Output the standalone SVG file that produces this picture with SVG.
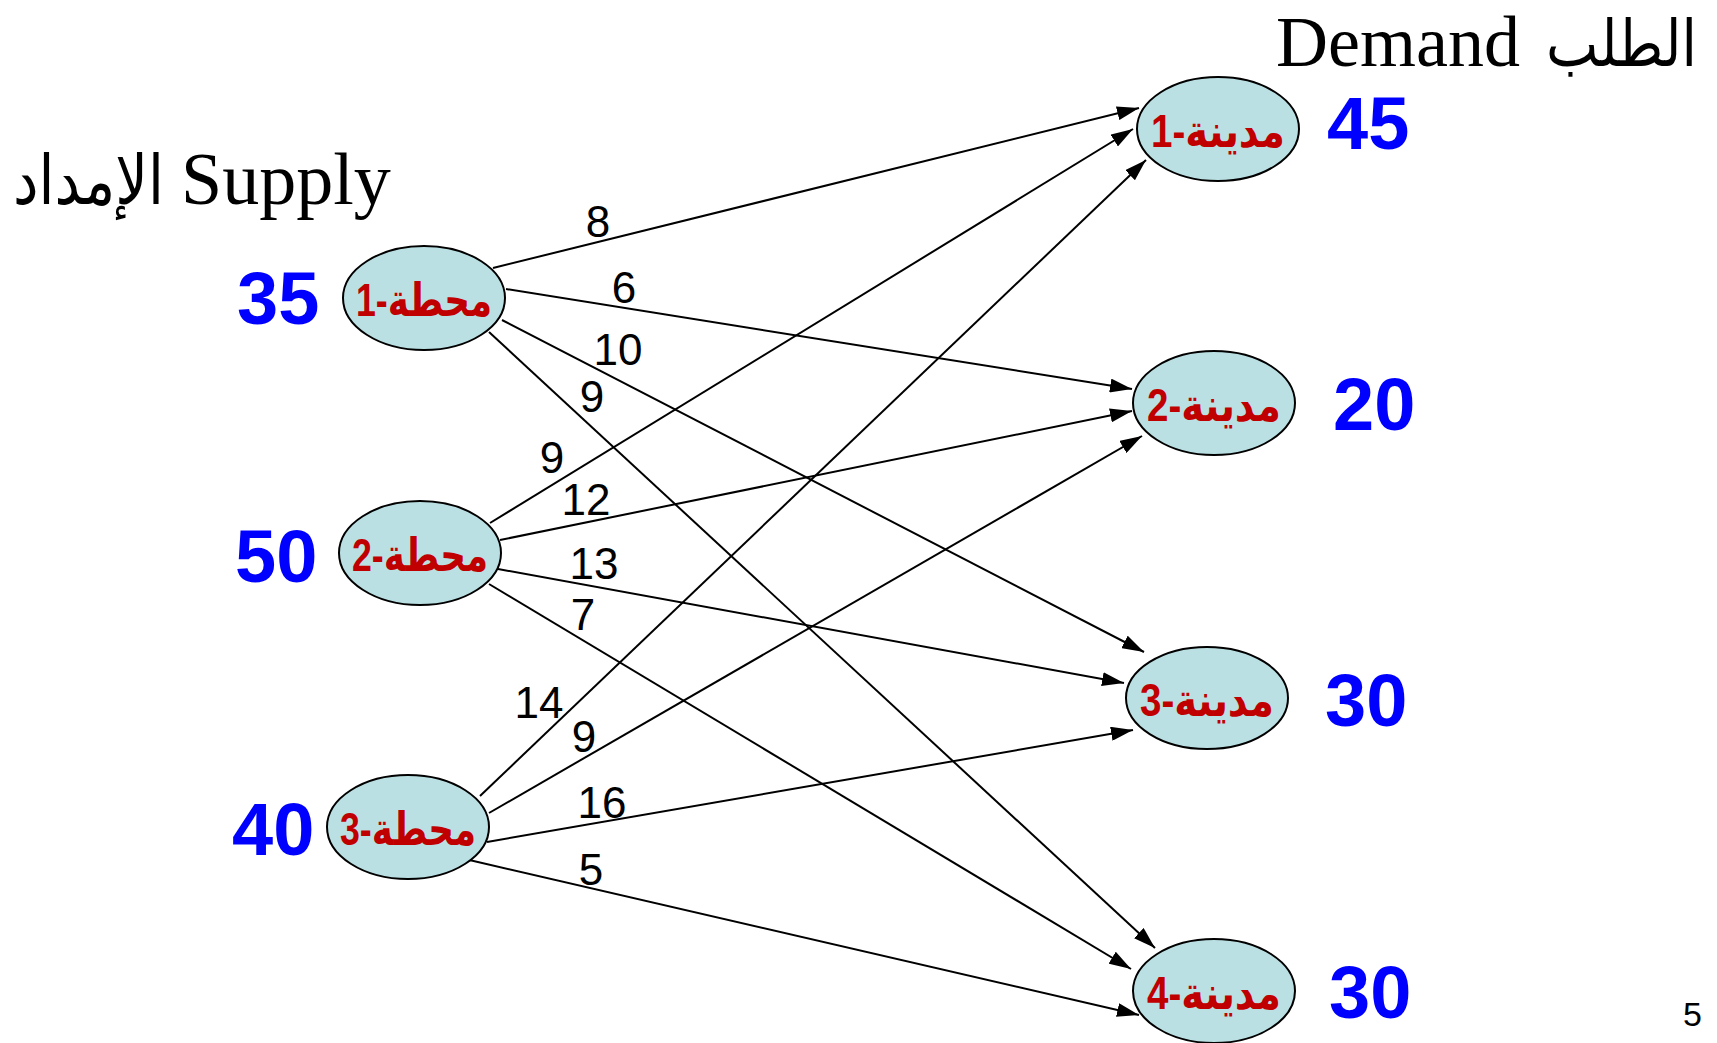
<svg xmlns="http://www.w3.org/2000/svg" width="1717" height="1043" viewBox="0 0 1717 1043">
<style>
.node ellipse{fill:#BBE0E3;stroke:#000;stroke-width:2}
.lbl{font-family:"Liberation Sans","DejaVu Sans",sans-serif;font-weight:bold;font-size:46px;fill:#C00000;text-anchor:middle}
.qty{font-family:"Liberation Sans",Arial,sans-serif;font-weight:bold;font-size:74px;fill:#0000FF}
.cost{font-family:"Liberation Sans",Arial,sans-serif;font-size:44px;fill:#000;text-anchor:middle}
.title{font-family:"Liberation Serif","DejaVu Sans",serif;font-size:74px;fill:#000}
.ar{font-family:"DejaVu Sans",serif;font-size:68px;fill:#000}
#edges line{stroke:#000;stroke-width:2;marker-end:url(#arr)}
</style>
<defs>
<marker id="arr" viewBox="0 0 22 14" refX="22" refY="7" markerWidth="22" markerHeight="14" markerUnits="userSpaceOnUse" orient="auto">
<path d="M0,0 L22,7 L0,14 z" fill="#000"/>
</marker>
</defs>
<rect width="1717" height="1043" fill="#fff"/>

<g id="titles">
<text class="ar" x="13" y="204" textLength="151" lengthAdjust="spacingAndGlyphs">الإمداد</text>
<text class="title" x="181" y="204">Supply</text>
<text class="title" x="1276" y="66" style="font-size:72px">Demand</text>
<text class="ar" x="1546" y="66" textLength="151" lengthAdjust="spacingAndGlyphs" style="font-size:64px">الطلب</text>
</g>

<g id="edges">
<line x1="493" y1="268" x2="1139" y2="108"/>
<line x1="506" y1="289" x2="1132" y2="389"/>
<line x1="502" y1="320" x2="1144" y2="652"/>
<line x1="489" y1="332" x2="1155" y2="948"/>
<line x1="490" y1="523" x2="1133" y2="129"/>
<line x1="500" y1="540" x2="1132" y2="411"/>
<line x1="498" y1="569" x2="1124" y2="683"/>
<line x1="489" y1="584" x2="1131" y2="969"/>
<line x1="480" y1="796" x2="1146" y2="160"/>
<line x1="489" y1="813" x2="1142" y2="436"/>
<line x1="487" y1="842" x2="1133" y2="730"/>
<line x1="465" y1="859" x2="1139" y2="1015"/>
</g>

<g id="costs">
<text class="cost" x="598" y="237">8</text>
<text class="cost" x="624" y="303">6</text>
<text class="cost" x="618" y="365">10</text>
<text class="cost" x="592" y="412">9</text>
<text class="cost" x="552" y="473">9</text>
<text class="cost" x="586" y="515">12</text>
<text class="cost" x="594" y="579">13</text>
<text class="cost" x="583" y="630">7</text>
<text class="cost" x="539" y="718">14</text>
<text class="cost" x="584" y="752">9</text>
<text class="cost" x="602" y="818">16</text>
<text class="cost" x="591" y="885">5</text>
</g>

<g id="s1" class="node"><ellipse cx="424" cy="298" rx="81" ry="52"/><text class="lbl" x="424" y="316" direction="rtl" textLength="136" lengthAdjust="spacingAndGlyphs">محطة-1</text></g>
<g id="s2" class="node"><ellipse cx="420" cy="553" rx="81" ry="52"/><text class="lbl" x="420" y="571" direction="rtl" textLength="136" lengthAdjust="spacingAndGlyphs">محطة-2</text></g>
<g id="s3" class="node"><ellipse cx="408" cy="827" rx="81" ry="52"/><text class="lbl" x="408" y="845" direction="rtl" textLength="136" lengthAdjust="spacingAndGlyphs">محطة-3</text></g>
<g id="d1" class="node"><ellipse cx="1218" cy="129" rx="81" ry="52"/><text class="lbl" x="1218" y="147" direction="rtl" textLength="134" lengthAdjust="spacingAndGlyphs">مدينة-1</text></g>
<g id="d2" class="node"><ellipse cx="1214" cy="403" rx="81" ry="52"/><text class="lbl" x="1214" y="421" direction="rtl" textLength="134" lengthAdjust="spacingAndGlyphs">مدينة-2</text></g>
<g id="d3" class="node"><ellipse cx="1207" cy="698" rx="81" ry="51"/><text class="lbl" x="1207" y="716" direction="rtl" textLength="134" lengthAdjust="spacingAndGlyphs">مدينة-3</text></g>
<g id="d4" class="node"><ellipse cx="1214" cy="991" rx="81" ry="52"/><text class="lbl" x="1214" y="1009" direction="rtl" textLength="134" lengthAdjust="spacingAndGlyphs">مدينة-4</text></g>

<g id="quantities">
<text class="qty" x="237" y="324">35</text>
<text class="qty" x="235" y="582">50</text>
<text class="qty" x="232" y="855">40</text>
<text class="qty" x="1327" y="149">45</text>
<text class="qty" x="1333" y="430">20</text>
<text class="qty" x="1325" y="726">30</text>
<text class="qty" x="1329" y="1018">30</text>
</g>

<text x="1683" y="1026" font-family="Liberation Sans, Arial, sans-serif" font-size="34" fill="#000">5</text>
</svg>
